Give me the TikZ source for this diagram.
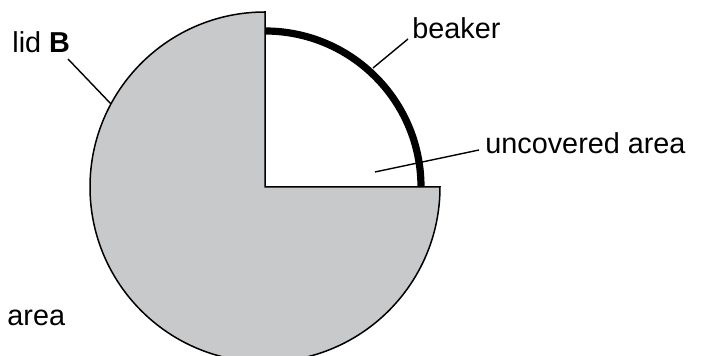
\documentclass[tikz,border=0pt]{standalone}
\usepackage{fontspec}
\setmainfont{Liberation Sans}
\definecolor{lidgray}{HTML}{C8C9CB}
\begin{document}
\begin{tikzpicture}[x=0.5pt,y=-0.5pt,
  lbl/.style={anchor=base west,inner sep=0pt,font=\fontsize{14.4pt}{17pt}\selectfont},
  leader/.style={draw=black,line width=0.7pt}]
\useasboundingbox (0,0) rectangle (703,356);
\clip (0,0) rectangle (703,356);
\coordinate (c) at (265,187);
% lid B: three-quarter disc
\fill[lidgray,draw=black,line width=0.75pt] (c) -- (265,12) arc[start angle=-90,end angle=-360,radius=175] -- cycle;
% beaker rim
\draw[line width=3.6pt] (265,31) arc[start angle=-90,end angle=0,radius=156];
% labels
\node[lbl] (beaker) at (412,39) {beaker};
\node[lbl] (unc) at (485,154) {uncovered area};
\node[lbl] (lid) at (12,53) {lid \textbf{B}};
\node[lbl] (area) at (7,326) {area};
% leader ends
\coordinate (b1) at (408,39);
\coordinate (b2) at (373,68);
\coordinate (u1) at (479,150);
\coordinate (u2) at (375,172);
\coordinate (l1) at (68,59);
\coordinate (l2) at (111,104);
\draw[leader] (b1) -- (b2);
\draw[leader] (u1) -- (u2);
\draw[leader] (l1) -- (l2);
\end{tikzpicture}
\end{document}
